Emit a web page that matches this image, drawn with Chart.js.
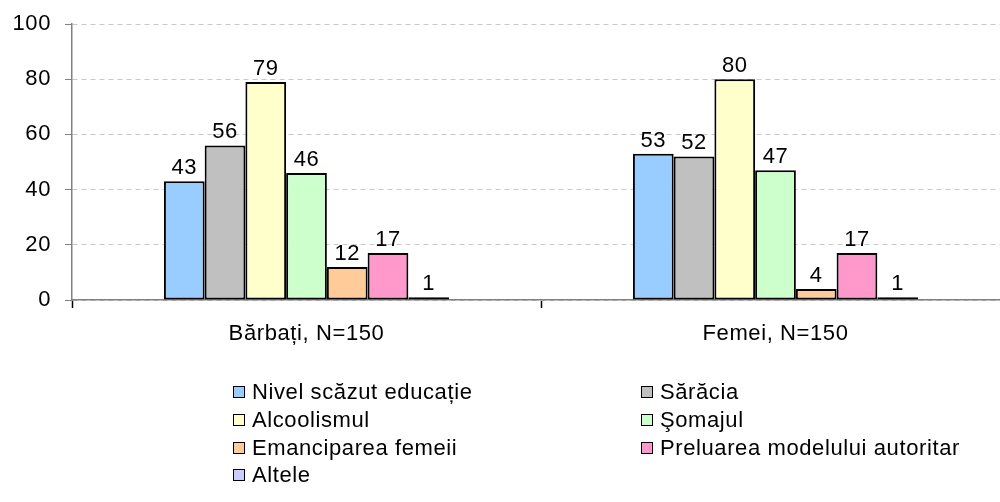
<!DOCTYPE html>
<html>
<head>
<meta charset="utf-8">
<script src="https://cdn.jsdelivr.net/npm/chart.js@4/dist/chart.umd.min.js"></script>
<style>
  html, body { margin: 0; padding: 0; background: #fff; overflow: hidden; }
  #wrap { position: relative; width: 1000px; height: 502px; overflow: hidden; }
  #chart-box { position: absolute; left: 0; top: 0; width: 1010px; height: 502px; }
  #legend { position: absolute; left: 0; top: 0; font-family: Arial, "Liberation Sans", sans-serif; font-size: 22px; letter-spacing: 0.6px; color: #000; }
  .item { position: absolute; white-space: nowrap; line-height: 24px; }
  .box { position: absolute; left: 0; top: 6px; width: 10px; height: 10px; border: 1px solid #000; }
  .lbl { position: absolute; left: 19px; top: 0; }
</style>
</head>
<body>
<div id="wrap">
  <div id="chart-box"><canvas id="chart" width="1010" height="502"></canvas></div>
  <div id="legend"></div>
</div>
<script>
// categories
const groups = ['Bărbați, N=150', 'Femei, N=150'];

// series (one per cause)
const causes = [
    'Nivel scăzut educație',
    'Sărăcia',
    'Alcoolismul',
    'Şomajul',
    'Emanciparea femeii',
    'Preluarea modelului autoritar',
    'Altele'
];
const colors = ['#99CCFF', '#C0C0C0', '#FFFFCC', '#CCFFCC', '#FFCC99', '#FF99CC', '#CCCCFF'];

// values [barbati, femei] per cause
const nivelScazut = [43, 53];
const saracia = [56, 52];
const alcoolismul = [79, 80];
const somajul = [46, 47];
const emanciparea = [12, 4];
const preluarea = [17, 17];
const altele = [1, 1];

const yTicks = [0, 20, 40, 60, 80, 100];

const series = [nivelScazut, saracia, alcoolismul, somajul, emanciparea, preluarea, altele];

Chart.defaults.font.family = 'Arial, "Liberation Sans", sans-serif';
Chart.defaults.font.size = 22;
Chart.defaults.color = '#000';

// the original text is drawn a bit wide, so space the letters out a little
const spacing = {
    id: 'spacing',
    beforeLayout(chart) { chart.ctx.letterSpacing = '0.6px'; },
    beforeDraw(chart) { chart.ctx.letterSpacing = '0.6px'; }
};

// value labels above the bars
const valueLabels = {
    id: 'valueLabels',
    afterDatasetsDraw(chart) {
        const ctx = chart.ctx;
        ctx.save();
        ctx.letterSpacing = '0.6px';
        ctx.font = '22px Arial, "Liberation Sans", sans-serif';
        ctx.fillStyle = '#000';
        ctx.textAlign = 'center';
        ctx.textBaseline = 'alphabetic';
        chart.data.datasets.forEach((ds, i) => {
            chart.getDatasetMeta(i).data.forEach((bar, j) => {
                ctx.fillText(ds.data[j], bar.x, bar.y - 7);
            });
        });
        ctx.restore();
    }
};

const data = {
    labels: groups,
    datasets: causes.map((name, i) => ({
        label: name,
        data: series[i],
        backgroundColor: colors[i],
        borderColor: '#000',
        borderWidth: 2,
        borderSkipped: false,
        barPercentage: 1,
        categoryPercentage: 0.608
    }))
};

const config = {
    type: 'bar',
    data,
    options: {
        responsive: false,
        animation: false,
        layout: { padding: { top: 24, left: 0, right: 0, bottom: 0 } },
        plugins: {
            legend: { display: false },
            tooltip: { enabled: false }
        },
        scales: {
            x: {
                grid: {
                    offset: true,
                    drawOnChartArea: false,
                    tickLength: 8,
                    tickColor: '#000',
                    tickWidth: 1.5
                },
                border: { color: '#808080', width: 1.5 },
                ticks: { padding: 13 },
                afterFit(scale) {
                    scale.height = 202;
                    scale.paddingLeft = 0;
                    scale.paddingRight = 0;
                }
            },
            y: {
                min: 0,
                max: 100,
                afterBuildTicks(scale) {
                    scale.ticks = yTicks.map(v => ({ value: v }));
                },
                grid: {
                    color: '#C8C8C8',
                    tickColor: '#808080',
                    tickLength: 7,
                    tickBorderDash: []
                },
                border: { color: '#808080', width: 1.5, dash: [5, 4] },
                ticks: { padding: 14 },
                afterFit(scale) {
                    scale.width = 72;
                    scale.paddingTop = 0;
                    scale.paddingBottom = 0;
                }
            }
        }
    },
    plugins: [spacing, valueLabels]
};

const myChart = new Chart(document.getElementById('chart'), config);

// legend in two columns, like the original
const legendPos = [
    [233, 380], [641, 380],
    [233, 408], [641, 408],
    [233, 436], [641, 436],
    [233, 463]
];
const legend = document.getElementById('legend');
causes.forEach((name, i) => {
    const item = document.createElement('div');
    item.className = 'item';
    item.style.left = legendPos[i][0] + 'px';
    item.style.top = legendPos[i][1] + 'px';
    item.innerHTML = '<span class="box" style="background:' + colors[i] + '"></span><span class="lbl">' + name + '</span>';
    legend.appendChild(item);
});
</script>
</body>
</html>
